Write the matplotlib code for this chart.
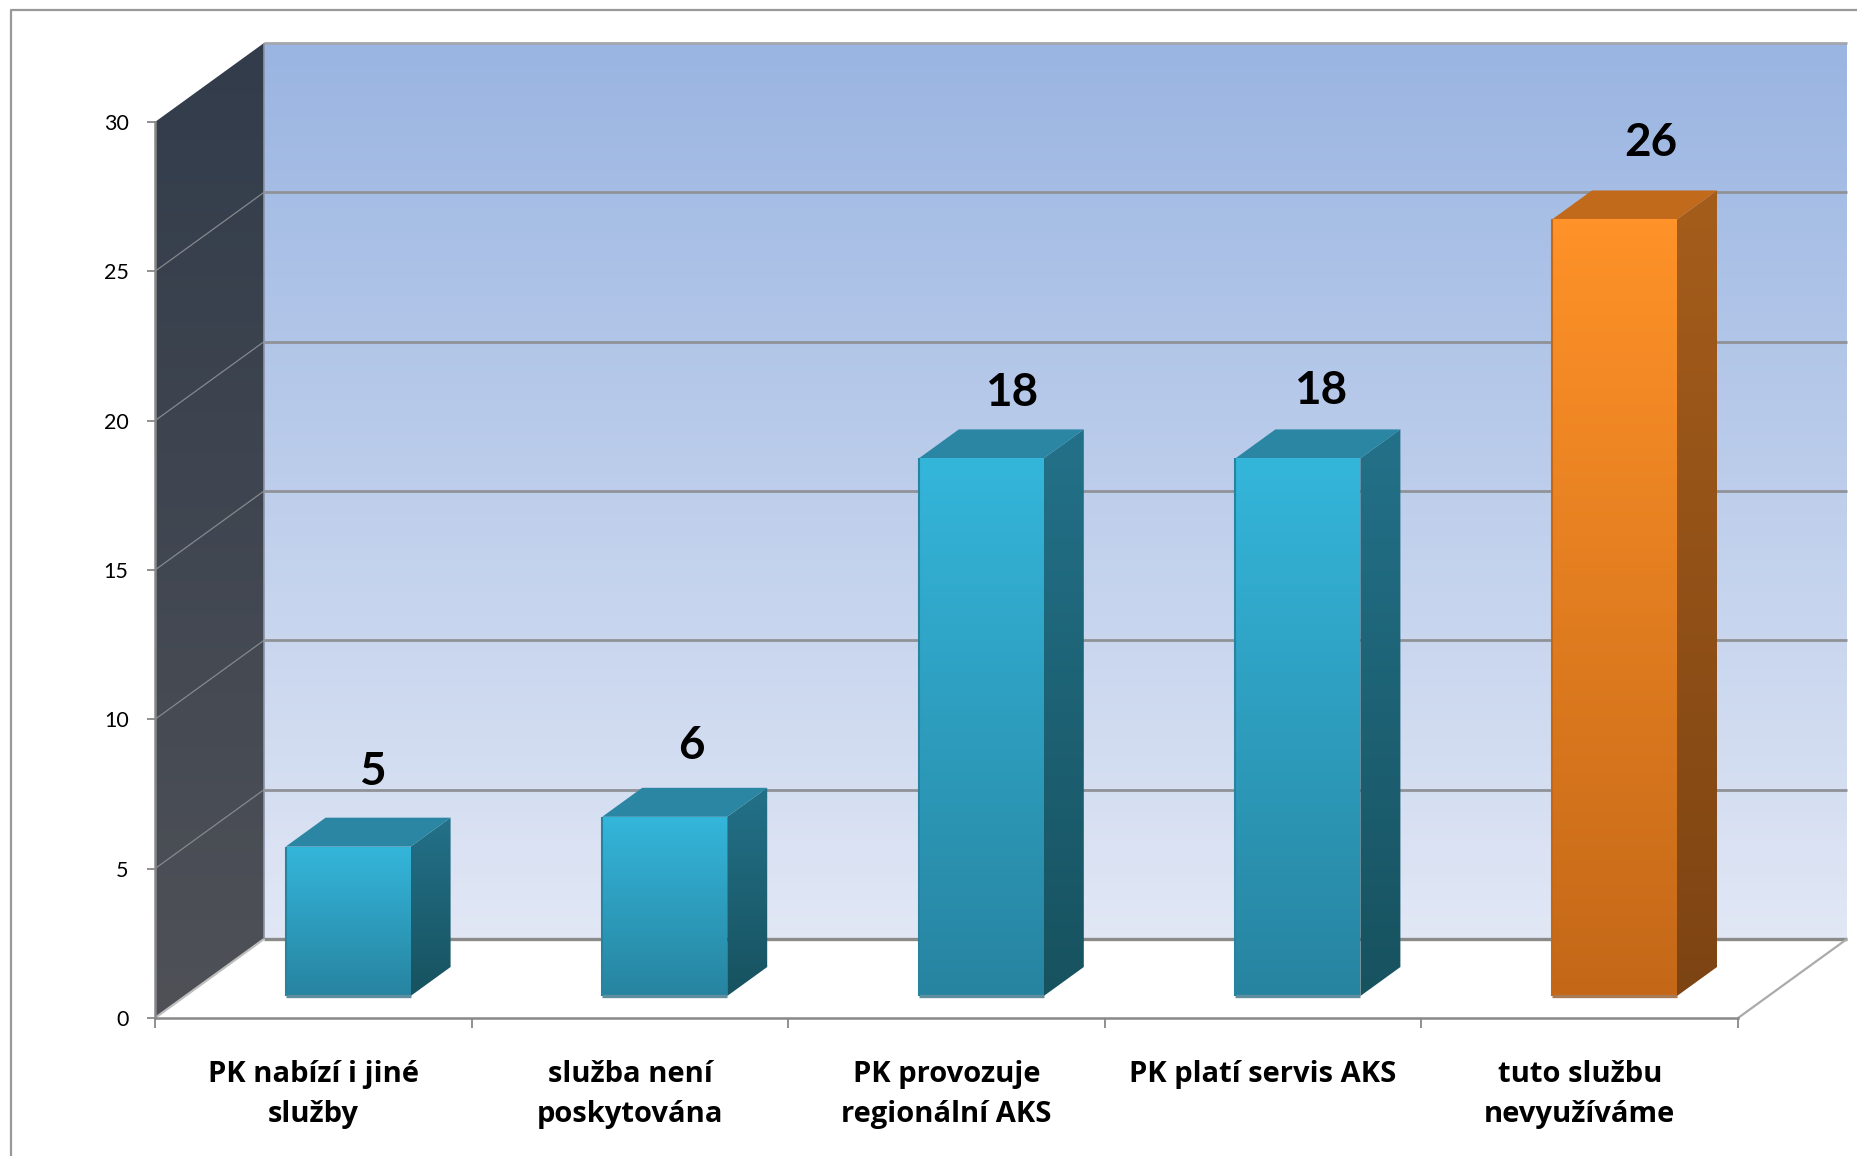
import numpy as np
import matplotlib
matplotlib.use("Agg")
import matplotlib.pyplot as plt
from matplotlib.colors import LinearSegmentedColormap
from matplotlib.patches import Polygon
from matplotlib.lines import Line2D

categories = ["PK nabízí i jiné\nslužby", "služba není\nposkytována", "PK provozuje\nregionální AKS",
              "PK platí servis AKS", "tuto službu\nnevyužíváme"]
values = [5, 6, 18, 18, 26]
label_offsets = [(25, 75), (27, 71), (30, 65), (23, 67), (36, 76)]
y_ticks = [0, 5, 10, 15, 20, 25, 30]

W, H = 1858, 1156
X0, X1, Y0, Y1 = 155, 1738, 1018, 122
plt.rcParams['font.family'] = ['Lato', 'DejaVu Sans']

fig = plt.figure(figsize=(W / 100, H / 100), dpi=100, facecolor='white')
ax = fig.add_axes([X0 / W, 1 - Y0 / H, (X1 - X0) / W, (Y0 - Y1) / H])
XMAX, YMAX = 5, 30
PX_X = (X1 - X0) / XMAX
PX_Y = (Y0 - Y1) / YMAX
DX = 109 / PX_X   # depth offset in data units
DY = 79 / PX_Y


def p(x, v, d=0.0):
    return (x + d * DX, v + d * DY)


def grad_poly(pts, top, bottom, z):
    pts = np.array(pts)
    cmap = LinearSegmentedColormap.from_list('g', [top, bottom])
    arr = np.linspace(0, 1, 256).reshape(-1, 1)
    im = ax.imshow(arr, cmap=cmap, vmin=0, vmax=1, aspect='auto', zorder=z,
                   extent=(pts[:, 0].min(), pts[:, 0].max(), pts[:, 1].min(), pts[:, 1].max()),
                   origin='upper', interpolation='bilinear')
    poly = Polygon(pts, closed=True, transform=ax.transData, fc='none', ec='none')
    im.set_clip_box(fig.bbox)
    im.set_clip_path(poly)
    return im


def line(a, b, color, lw, z):
    ax.add_line(Line2D([a[0], b[0]], [a[1], b[1]], color=color, lw=lw, zorder=z,
                       clip_on=False, solid_capstyle='butt'))


# back wall and side wall
grad_poly([p(0, 0, 1), p(XMAX, 0, 1), p(XMAX, YMAX, 1), p(0, YMAX, 1)], '#9AB5E2', '#E1E7F5', 1)
grad_poly([p(0, 0, 0), p(0, 0, 1), p(0, YMAX, 1), p(0, YMAX, 0)], '#323C4B', '#4F5157', 1)

# gridlines
for t in y_ticks:
    if t == 0:
        continue
    c = '#A3A6AC' if t == 30 else '#8F9297'
    line(p(0, t, 1), p(XMAX, t, 1), c, 2.0, 2)
    if t != 30:
        line(p(0, t, 0), p(0, t, 1), '#85888D', 0.9, 2)
line(p(0, 0, 1), p(XMAX, 0, 1), '#8A8A8A', 2.4, 2)
line(p(0, 0, 0), p(0, 0, 1), '#BDBDBD', 1.6, 2)
line(p(XMAX, 0, 0), p(XMAX, 0, 1), '#ABABAB', 1.6, 2)
line(p(0, 0, 1), p(0, YMAX, 1), '#8A93A6', 1.2, 2)

# bars
BAR_W = 125 / PX_X
D0, D1 = 22 / 79, 51 / 79
teal = dict(front=('#34B6DB', '#2784A0'), side=('#237189', '#17525F'), top='#2A86A3', base='#5F8E9E')
orange = dict(front=('#FF9228', '#C46818'), side=('#A55D1B', '#7D4413'), top='#C26A1B', base='#A87B52')
for i, v in enumerate(values):
    st = orange if i == len(values) - 1 else teal
    fl = i + 0.5 + 0.014 + D0 * DX - BAR_W / 2
    fr = fl + BAR_W
    b0 = D0 * DY            # the front face stands on the floor at depth D0
    b1 = b0 + v
    dd = D1 - D0
    grad_poly([(fr, b0), p(fr, b0, dd), p(fr, b1, dd), (fr, b1)], st['side'][0], st['side'][1], 3)
    ax.add_patch(Polygon([(fl, b1), (fr, b1), p(fr, b1, dd), p(fl, b1, dd)], closed=True,
                         fc=st['top'], ec='none', zorder=3, clip_on=False))
    grad_poly([(fl, b0), (fr, b0), (fr, b1), (fl, b1)], st['front'][0], st['front'][1], 4)
    line((fl, b0), (fr, b0), st['base'], 2.4, 5)
    line((fl, b0), (fl, b1), st['front'][1], 1.5, 5)
    ox, oy = label_offsets[i]
    ax.annotate(str(v), xy=((fl + fr) / 2, b1), xytext=(ox * 0.72, oy * 0.72), textcoords='offset points',
                ha='center', va='center', fontsize=33, fontweight='bold', color='black', zorder=6,
                annotation_clip=False)

ax.set_xlim(0, XMAX)
ax.set_ylim(0, YMAX)
ax.patch.set_visible(False)
for s in ('top', 'right'):
    ax.spines[s].set_visible(False)
for s in ('left', 'bottom'):
    ax.spines[s].set_color('#888888')
    ax.spines[s].set_linewidth(1.8)
    ax.spines[s].set_zorder(7)

ax.set_yticks(y_ticks)
ax.set_yticklabels([str(t) for t in y_ticks], fontsize=15.5, color='black')
ax.tick_params(axis='y', length=6, width=1.3, color='#888888', pad=13)
ax.set_xticks(range(XMAX + 1))
ax.set_xticklabels([''] * (XMAX + 1))
ax.tick_params(axis='x', which='major', length=7, width=1.3, color='#888888')
ax.set_xticks(np.arange(XMAX) + 0.5, minor=True)
ax.set_xticklabels(categories, minor=True, fontsize=21, fontweight='bold', color='black',
                   linespacing=1.52, family=['Open Sans', 'DejaVu Sans'])
ax.tick_params(axis='x', which='minor', length=0, pad=30)

# outer frame (top and left only)
fig.add_artist(Line2D([11 / W, 11 / W, 1], [0, 1 - 10 / H, 1 - 10 / H], color='#999999', lw=1.6))

fig.savefig('out.png', dpi=100)
